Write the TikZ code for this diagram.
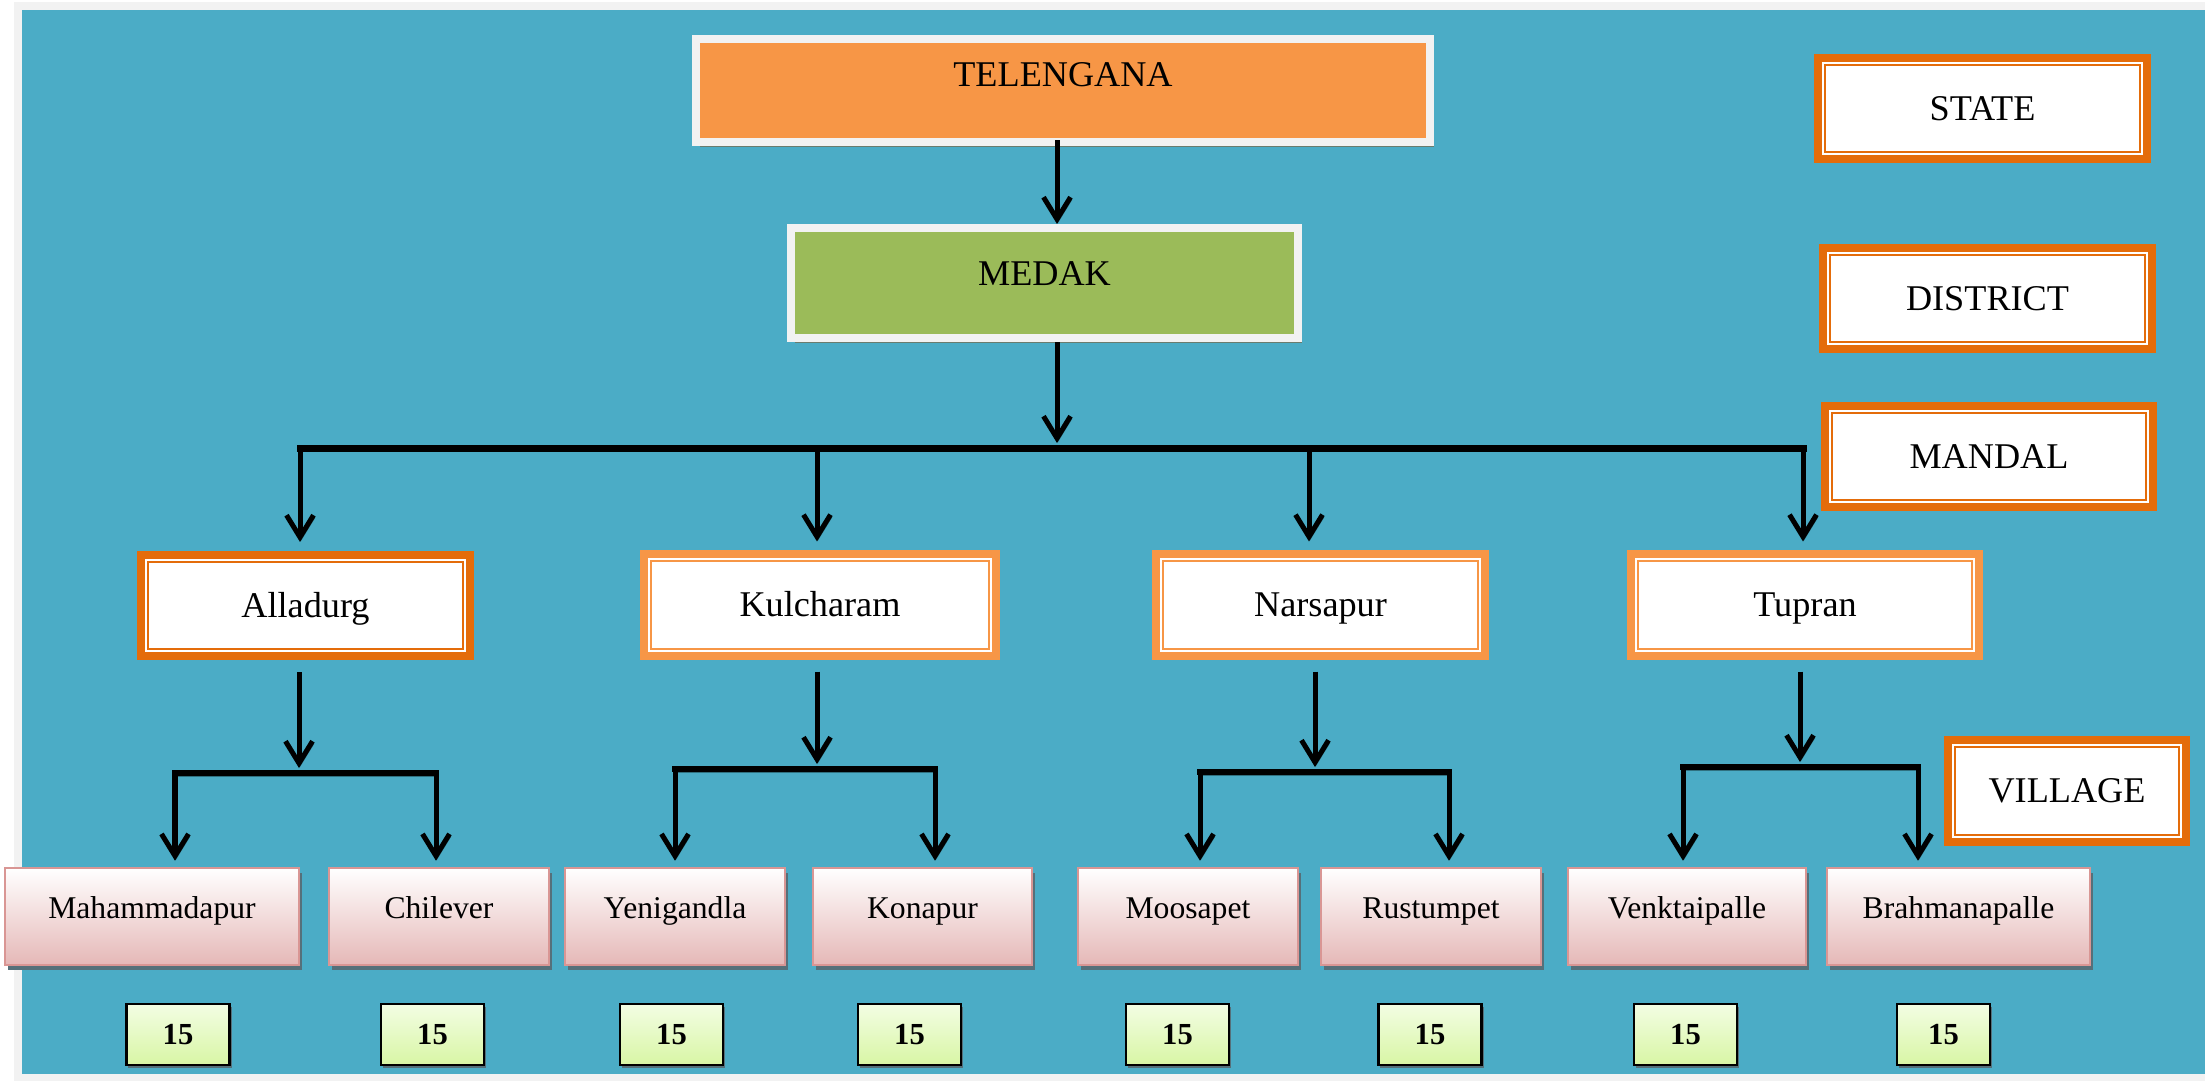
\documentclass[tikz,border=0pt]{standalone}
\usepackage{fontspec}
\setmainfont{Liberation Serif}
\usetikzlibrary{arrows.meta,shadows}
\definecolor{bgblue}{HTML}{4BACC6}
\definecolor{orlight}{HTML}{F79646}
\definecolor{ordark}{HTML}{E46C0A}
\definecolor{grn}{HTML}{9BBB59}
\definecolor{offwhite}{HTML}{F2F2F2}
\definecolor{pinkbot}{HTML}{E5B8B7}
\definecolor{pinkbd}{HTML}{D99694}
\definecolor{grtop}{HTML}{F3FDE3}
\definecolor{grbot}{HTML}{D8F6A5}
\definecolor{boxshadow}{HTML}{55707A}
\definecolor{topshadow}{HTML}{6A7C6E}
\definecolor{lnshadow}{HTML}{30707F}
\begin{document}
\begin{tikzpicture}[x=0.01cm,y=0.01cm,
  bigfont/.style={font=\fontsize{10.3}{12}\selectfont},
  topbox/.style={draw=offwhite, line width=0.08cm, inner sep=0pt, bigfont,
    drop shadow={shadow xshift=0.04cm, shadow yshift=-0.05cm, fill=topshadow, opacity=1}},
  framebox/.style={fill=white, draw=#1, line width=0.08cm, inner sep=0pt, bigfont,
    text height=0.24cm, text depth=0.01cm, minimum height=1.01cm,
    path picture={\draw[#1, line width=0.02cm]
      ([xshift=0.07cm,yshift=-0.07cm]path picture bounding box.north west) rectangle
      ([xshift=-0.07cm,yshift=0.07cm]path picture bounding box.south east);}},
  village/.style={draw=pinkbd, line width=0.025cm, top color=white, bottom color=pinkbot,
    inner sep=0pt, minimum height=0.97cm, font=\fontsize{9}{11}\selectfont,
    text height=0.2cm, text depth=0.17cm,
    drop shadow={shadow xshift=0.03cm, shadow yshift=-0.05cm, fill=boxshadow, opacity=1}},
  countbox/.style={draw=black, line width=0.025cm, top color=grtop, bottom color=grbot,
    inner sep=0pt, minimum width=1.03cm, minimum height=0.61cm,
    font=\fontsize{8.7}{10}\selectfont\bfseries, text height=0.21cm, text depth=0.02cm,
    drop shadow={shadow xshift=0.02cm, shadow yshift=-0.03cm, fill=boxshadow, opacity=1}},
  arr/.style={line width=0.05cm, -{Straight Barb[length=0.22cm,width=0.27cm]},
    preaction={draw=lnshadow, transform canvas={xshift=0.01cm,yshift=-0.025cm}}},
  mainbar/.style={line width=0.07cm, line cap=rect,
    preaction={draw=lnshadow, transform canvas={yshift=-0.035cm}}},
  subbar/.style={line width=0.06cm, line cap=rect,
    preaction={draw=lnshadow, transform canvas={yshift=-0.03cm}}}
]
\useasboundingbox (0,0) rectangle (2205,-1081);
\fill[white] (0,0) rectangle (2205,-1081);
\fill[offwhite] (14,-2) rectangle (2205,-1081);
\fill[bgblue] (22,-10) rectangle (2205,-1074);

% top boxes
\node[topbox, fill=orlight, minimum width=7.34cm, minimum height=1.03cm,
  text height=0.25cm, text depth=0.34cm] (tel) at (1063,-90.5) {TELENGANA};
\node[topbox, fill=grn, minimum width=5.07cm, minimum height=1.10cm,
  text height=0.26cm, text depth=0.22cm] (med) at (1044.5,-283) {MEDAK};

% legend
\node[framebox=ordark, minimum width=3.29cm] (lstate) at (1982.5,-108.5) {STATE};
\node[framebox=ordark, minimum width=3.29cm] (ldist) at (1987.5,-298.5) {DISTRICT};
\node[framebox=ordark, minimum width=3.28cm] (lmand) at (1989,-456.5) {MANDAL};
\node[framebox=ordark, minimum width=2.38cm, minimum height=1.02cm] (lvill) at (2067,-791) {VILLAGE};

% mandals
\node[framebox=ordark, minimum width=3.29cm] (m1) at (305.5,-605.5) {Alladurg};
\node[framebox=orlight, minimum width=3.52cm] (m2) at (820,-605) {Kulcharam};
\node[framebox=orlight, minimum width=3.29cm] (m3) at (1320.5,-605) {Narsapur};
\node[framebox=orlight, minimum width=3.48cm] (m4) at (1805,-605) {Tupran};

% villages
\node[village, minimum width=2.94cm] (v1) at (152,-916.5) {Mahammadapur};
\node[village, minimum width=2.20cm] (v2) at (439,-916.5) {Chilever};
\node[village, minimum width=2.20cm] (v3) at (675,-916.5) {Yenigandla};
\node[village, minimum width=2.19cm] (v4) at (922.5,-916.5) {Konapur};
\node[village, minimum width=2.20cm] (v5) at (1188,-916.5) {Moosapet};
\node[village, minimum width=2.20cm] (v6) at (1431,-916.5) {Rustumpet};
\node[village, minimum width=2.38cm] (v7) at (1687,-916.5) {Venktaipalle};
\node[village, minimum width=2.63cm] (v8) at (1958.5,-916.5) {Brahmanapalle};

% counts
\node[countbox] (c1) at (178,-1034.5) {15};
\node[countbox] (c2) at (432.5,-1034.5) {15};
\node[countbox] (c3) at (671.5,-1034.5) {15};
\node[countbox] (c4) at (909.5,-1034.5) {15};
\node[countbox] (c5) at (1177.5,-1034.5) {15};
\node[countbox] (c6) at (1430,-1034.5) {15};
\node[countbox] (c7) at (1685.5,-1034.5) {15};
\node[countbox, minimum width=0.93cm] (c8) at (1943.5,-1034.5) {15};

% connector coordinates
\coordinate (j0) at (1057,-448);
\coordinate (a1) at (300,-448);
\coordinate (a2) at (817,-448);
\coordinate (a3) at (1309,-448);
\coordinate (a4) at (1803,-448);
\coordinate (k1) at (299,-773); \coordinate (l1) at (175,-773); \coordinate (r1) at (436,-773);
\coordinate (k2) at (817,-769); \coordinate (l2) at (675,-769); \coordinate (r2) at (935,-769);
\coordinate (k3) at (1315,-772); \coordinate (l3) at (1200,-772); \coordinate (r3) at (1449,-772);
\coordinate (k4) at (1800,-767); \coordinate (l4) at (1683,-767); \coordinate (r4) at (1918,-767);

% connectors
\draw[arr, shorten <=-0.06cm] (j0 |- tel.south) -- (j0 |- med.north);
\draw[arr, shorten >=0.05cm] (j0 |- med.south) -- (j0);
\draw[mainbar] (a1) -- (a4);
\foreach \i in {1,...,4}{
  \draw[arr, shorten >=0.09cm] (a\i) -- (a\i |- m\i.north);
}
\foreach \i/\l/\r in {1/1/2, 2/3/4, 3/5/6, 4/7/8}{
  \draw[arr, shorten <=0.12cm, shorten >=0.05cm] (k\i |- m\i.south) -- (k\i);
  \draw[subbar] (l\i) -- (r\i);
  \draw[arr, shorten >=0.06cm] (l\i) -- (l\i |- v\l.north);
  \draw[arr, shorten >=0.06cm] (r\i) -- (r\i |- v\r.north);
}
\end{tikzpicture}
\end{document}
